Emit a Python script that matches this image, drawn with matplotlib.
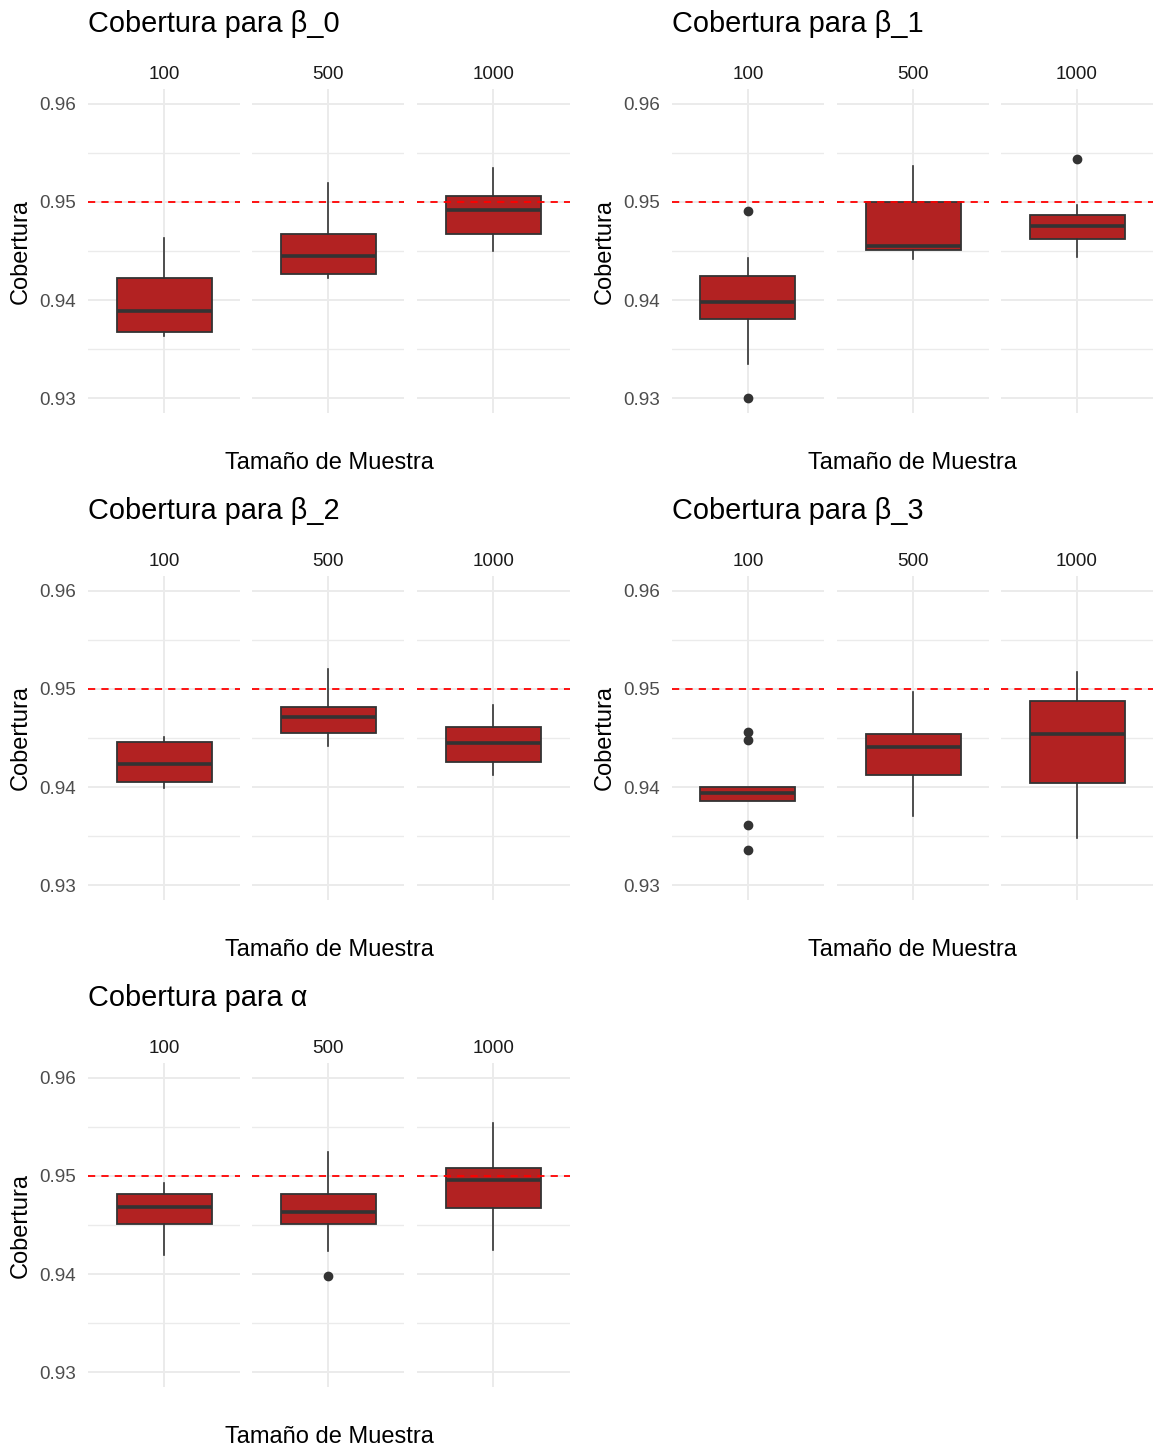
import matplotlib
matplotlib.use("Agg")
import matplotlib.pyplot as plt
from matplotlib.ticker import FixedLocator

plt.rcParams['font.family'] = ['Liberation Sans', 'DejaVu Sans']

# --- datos: cobertura por parámetro y tamaño de muestra ---
params = ["β_0", "β_1", "β_2", "β_3", "α"]
sizes = ["100", "500", "1000"]

whislo = [
    [0.9363, 0.9422, 0.9450],
    [0.9335, 0.9442, 0.9444],
    [0.9399, 0.9442, 0.9412],
    [0.9386, 0.9371, 0.9348],
    [0.9419, 0.9424, 0.9425],
]
q1 = [
    [0.9368, 0.9427, 0.9467],
    [0.9381, 0.9451, 0.9462],
    [0.9405, 0.9455, 0.9426],
    [0.9386, 0.9412, 0.9404],
    [0.9451, 0.9451, 0.9467],
]
med = [
    [0.9389, 0.9445, 0.9492],
    [0.9398, 0.9455, 0.9475],
    [0.9424, 0.9471, 0.9445],
    [0.9394, 0.9441, 0.9454],
    [0.9468, 0.9463, 0.9496],
]
q3 = [
    [0.9423, 0.9467, 0.9506],
    [0.9425, 0.9500, 0.9487],
    [0.9446, 0.9482, 0.9461],
    [0.9400, 0.9454, 0.9488],
    [0.9482, 0.9482, 0.9508],
]
whishi = [
    [0.9463, 0.9519, 0.9535],
    [0.9443, 0.9537, 0.9497],
    [0.9451, 0.9520, 0.9484],
    [0.9400, 0.9497, 0.9517],
    [0.9493, 0.9524, 0.9554],
]
fliers = [
    [[], [], []],
    [[0.9491, 0.9300], [], [0.9544]],
    [[], [], []],
    [[0.9456, 0.9448, 0.9361, 0.9336], [], []],
    [[], [0.9398], []],
]
nominal = 0.95

# --- layout en píxeles ---
W, H = 1153, 1448
col_x = [[(88, 240), (252, 404), (417, 570)],
         [(672, 824), (837, 989), (1001, 1153)]]
row_y = [(89, 413), (576, 900), (1063, 1387)]

FILL = "#B22222"
EDGE = "#333333"
GRID = "#EBEBEB"


def fx(x):
    return x / W


def fy(y):
    return 1 - y / H


fig = plt.figure(figsize=(W / 100, H / 100), dpi=100)

for p, name in enumerate(params):
    r, c = divmod(p, 2)
    y0, y1 = row_y[r]
    for k, size in enumerate(sizes):
        x0, x1 = col_x[c][k]
        ax = fig.add_axes([fx(x0), fy(y1), (x1 - x0) / W, (y1 - y0) / H])
        stats = [dict(whislo=whislo[p][k], q1=q1[p][k], med=med[p][k],
                      q3=q3[p][k], whishi=whishi[p][k], fliers=fliers[p][k])]
        ax.bxp(stats, positions=[1], widths=0.75, patch_artist=True,
               showcaps=False,
               boxprops=dict(facecolor=FILL, edgecolor=EDGE, linewidth=1.3),
               medianprops=dict(color=EDGE, linewidth=2.6),
               whiskerprops=dict(color=EDGE, linewidth=1.2),
               flierprops=dict(marker='o', markerfacecolor=EDGE,
                               markeredgecolor=EDGE, markersize=6))
        ax.axhline(nominal, color="red", linestyle=(0, (4, 3.4)),
                   linewidth=1.3, zorder=5)
        ax.set_xlim(0.4, 1.6)
        ax.set_ylim(0.9285, 0.9615)
        ax.yaxis.set_major_locator(FixedLocator([0.93, 0.94, 0.95, 0.96]))
        ax.yaxis.set_minor_locator(FixedLocator([0.935, 0.945, 0.955]))
        ax.set_xticks([1])
        ax.grid(True, which='major', color=GRID, linewidth=1.4)
        ax.grid(True, which='minor', axis='y', color=GRID, linewidth=1.0)
        ax.set_axisbelow(True)
        for s in ax.spines.values():
            s.set_visible(False)
        ax.tick_params(which='both', length=0)
        ax.tick_params(axis='y', labelsize=13.6, labelcolor="#4D4D4D", pad=8.6)
        ax.set_xticklabels([])
        if k == 0:
            ax.set_yticklabels(["0.93", "0.94", "0.95", "0.96"])
        else:
            ax.set_yticklabels([])
        # etiqueta de faceta
        fig.text(fx((x0 + x1) / 2), fy(y0 - 10), size, ha='center',
                 va='baseline', fontsize=13.6, color="#1A1A1A")

    left = col_x[c][0][0]
    right = col_x[c][2][1]
    fig.text(fx(left), fy(y0 - 57), f"Cobertura para {name}", ha='left',
             va='baseline', fontsize=20.8, color="black")
    fig.text(fx(left - 67), fy((y0 + y1) / 2), "Cobertura", rotation=90,
             ha='center', va='center', fontsize=17, color="black")
    fig.text(fx((left + right) / 2), fy(y1 + 56), "Tamaño de Muestra",
             ha='center', va='baseline', fontsize=17, color="black")

fig.savefig("out.png", dpi=100, facecolor="white")
